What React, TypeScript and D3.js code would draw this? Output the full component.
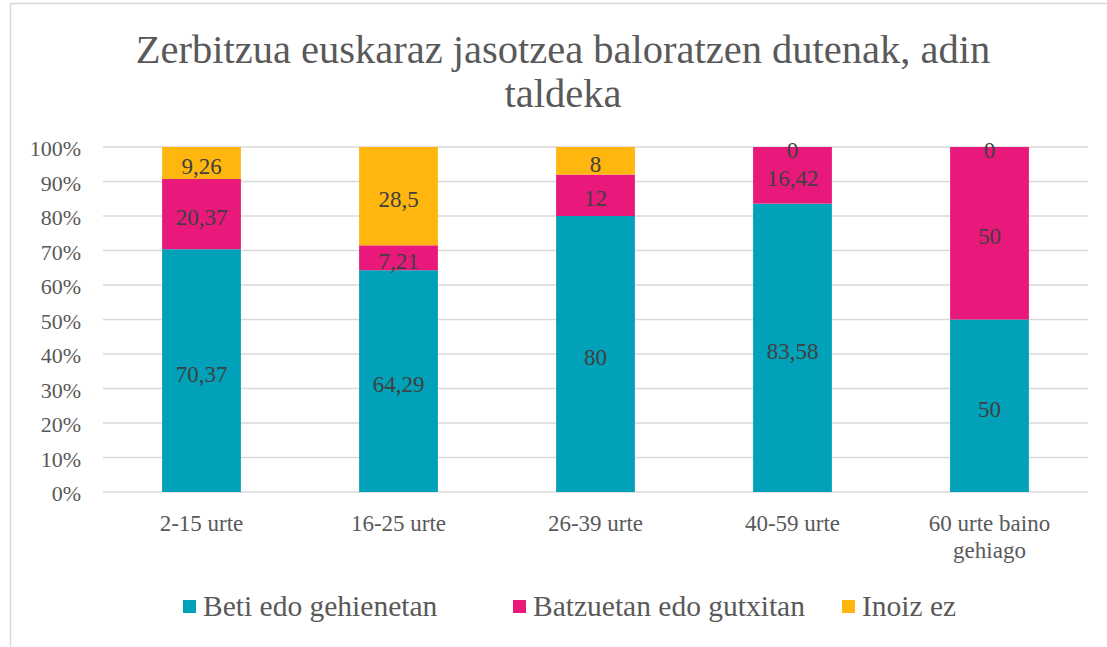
import React from "react";
import * as d3 from "d3";

const categories = ["2-15 urte", "16-25 urte", "26-39 urte", "40-59 urte", "60 urte baino gehiago"];
const categoryLines = [["2-15 urte"], ["16-25 urte"], ["26-39 urte"], ["40-59 urte"], ["60 urte baino", "gehiago"]];
const seriesNames = ["Beti edo gehienetan", "Batzuetan edo gutxitan", "Inoiz ez"];
const beti = [70.37, 64.29, 80, 83.58, 50];
const batzuetan = [20.37, 7.21, 12, 16.42, 50];
const inoiz = [9.26, 28.5, 8, 0, 0];
const labelsBeti = ["70,37", "64,29", "80", "83,58", "50"];
const labelsBatzuetan = ["20,37", "7,21", "12", "16,42", "50"];
const labelsInoiz = ["9,26", "28,5", "8", "0", "0"];
const yTicks = [0, 10, 20, 30, 40, 50, 60, 70, 80, 90, 100];
const colors = ["#00A1B9", "#E8197B", "#FFB60E"];
const title = ["Zerbitzua euskaraz jasotzea baloratzen dutenak, adin", "taldeka"];

const fontStyle = { fontFamily: "'Liberation Serif', 'Times New Roman', serif" };

export default function App() {
  const W = 1107, H = 647;
  const left = 103, right = 1088, top = 147, bottom = 492;
  const x = d3.scaleBand<string>().domain(categories).range([left, right]).paddingInner(0.6).paddingOuter(0.3);
  const y = d3.scaleLinear().domain([0, 100]).range([bottom, top]);

  const rows = categories.map((c, i) => ({ cat: c, s0: beti[i], s1: batzuetan[i], s2: inoiz[i] }));
  const stack = d3.stack<any>().keys(["s0", "s1", "s2"]);
  const stacked = stack(rows);
  const labels = [labelsBeti, labelsBatzuetan, labelsInoiz];

  const legendX = [183, 513, 842];

  return (
    <svg width={W} height={H} style={{ display: "block", position: "absolute", left: 0, top: 0, ...fontStyle }}>
      <rect x={0} y={0} width={W} height={H} fill="#fff" />
      <rect x={10.5} y={3.5} width={W + 20} height={H + 20} fill="none" stroke="#d9d9d9" strokeWidth={1.5} />
      <g style={fontStyle} fill="#595959" textAnchor="middle" fontSize={40.5}>
        <text x={563} y={63}>{title[0]}</text>
        <text x={563} y={107}>{title[1]}</text>
      </g>
      {yTicks.map((t) => (
        <g key={t}>
          <line x1={left} x2={right} y1={y(t)} y2={y(t)} stroke="#d9d9d9" strokeWidth={1.5} />
          <text x={81} y={y(t) + 9} textAnchor="end" style={fontStyle} fontSize={22} fill="#595959">{t + "%"}</text>
        </g>
      ))}
      {stacked.map((layer, si) => (
        <g key={si}>
          {layer.map((d, i) => {
            const x0 = x(categories[i])!;
            const y0 = y(d[1]);
            const h = y(d[0]) - y(d[1]);
            return (
              <g key={i}>
                {h > 0 && <rect x={x0} y={y0} width={x.bandwidth()} height={h} fill={colors[si]} />}
              </g>
            );
          })}
        </g>
      ))}
      {stacked.map((layer, si) => (
        <g key={"l" + si}>
          {layer.map((d, i) => {
            const cx = x(categories[i])! + x.bandwidth() / 2;
            const cy = (y(d[0]) + y(d[1])) / 2;
            return (
              <text key={i} x={cx} y={cy + 11} textAnchor="middle" style={fontStyle} fontSize={23} fill="#404040">
                {labels[si][i]}
              </text>
            );
          })}
        </g>
      ))}
      {categoryLines.map((lines, i) => (
        <text key={i} textAnchor="middle" style={fontStyle} fontSize={23} fill="#595959">
          {lines.map((l, j) => (
            <tspan key={j} x={x(categories[i])! + x.bandwidth() / 2} y={531 + j * 27}>{l}</tspan>
          ))}
        </text>
      ))}
      {seriesNames.map((s, i) => (
        <g key={s}>
          <rect x={legendX[i]} y={600} width={13} height={13} fill={colors[i]} />
          <text x={legendX[i] + 20} y={616} style={fontStyle} fontSize={29.5} fill="#595959">{s}</text>
        </g>
      ))}
    </svg>
  );
}
